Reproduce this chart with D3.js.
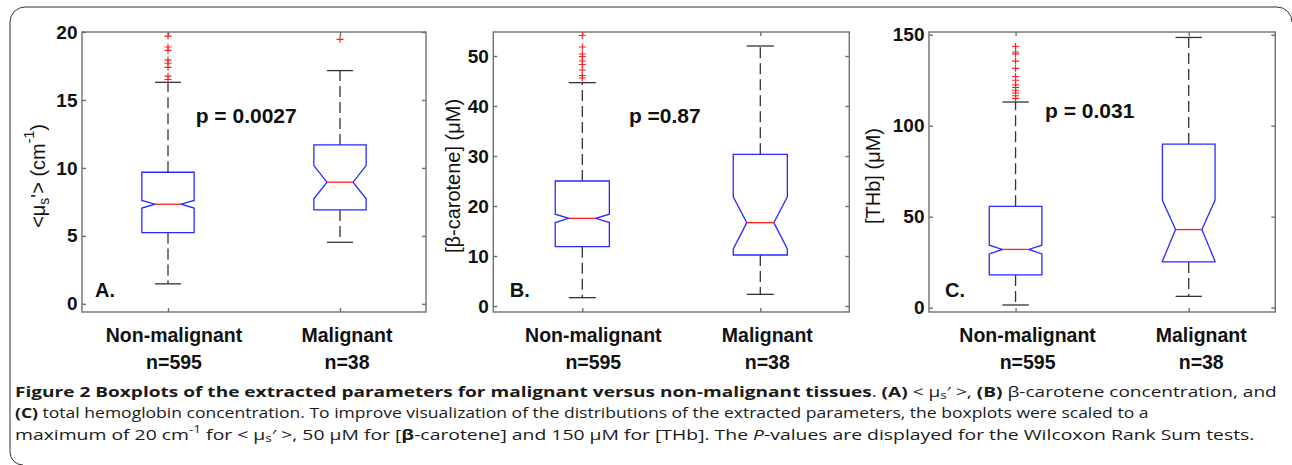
<!DOCTYPE html>
<html><head><meta charset="utf-8">
<script src="https://cdn.jsdelivr.net/npm/d3@7"></script>
<style>body{margin:0;background:#fff} svg{display:block}</style>
</head><body>
<svg id="chart" width="1292" height="465"></svg>
<script>
// ---------------- DATA ----------------
const categories = ["Non-malignant", "Malignant"];
const sampleSizes = [595, 38];

// Panel A: <mu_s'> (cm^-1)
const aWhiskerLow = [1.47, 4.53];
const aQ1 = [5.24, 6.91];
const aNotchLow = [7.05, 7.73];
const aMedian = [7.33, 8.95];
const aNotchHigh = [7.61, 10.17];
const aQ3 = [9.68, 11.69];
const aWhiskerHigh = [16.3, 17.16];
const aOutliersNonMalignant = [19.7, 18.9, 18.65, 17.95, 17.7, 17.4, 16.75, 16.5];
const aOutliersMalignant = [19.46];
const aTicks = [0, 5, 10, 15, 20];
const aDomain = [-0.6, 20];

// Panel B: [beta-carotene] (uM)
const bWhiskerLow = [1.67, 2.33];
const bQ1 = [11.87, 10.2];
const bNotchLow = [16.68, 11.4];
const bMedian = [17.53, 16.67];
const bNotchHigh = [18.37, 21.85];
const bQ3 = [25.0, 30.33];
const bWhiskerHigh = [44.67, 52.0];
const bOutliersNonMalignant = [54.1, 51.8, 50.4, 49.9, 49.0, 48.3, 47.2, 46.1, 45.6];
const bOutliersMalignant = [];
const bTicks = [0, 10, 20, 30, 40, 50];
const bDomain = [-1.2, 54.8];

// Panel C: [THb] (uM)
const cWhiskerLow = [1.46, 6.2];
const cQ1 = [17.96, 25.1];
const cNotchLow = [29.5, 25.5];
const cMedian = [32.0, 42.9];
const cNotchHigh = [34.3, 59.0];
const cQ3 = [55.7, 89.9];
const cWhiskerHigh = [113.0, 148.5];
const cOutliersNonMalignant = [143.5, 140.5, 139.5, 135.5, 131.5, 127, 125, 122.5, 121, 119.5, 118, 116.5, 115];
const cOutliersMalignant = [];
const cTicks = [0, 50, 100, 150];
const cDomain = [-2.4, 151.5];

const pValueLabels = ["p = 0.0027", "p =0.87", "p = 0.031"];
const panelLetters = ["A.", "B.", "C."];

// ---------------- LAYOUT / STYLE ----------------
const svg = d3.select("#chart");
const FONT = "'Liberation Sans', Arial, sans-serif";
const TOP = 32, BOTTOM = 312;

const panels = [
  { left: 82, right: 426, domain: aDomain, ticks: aTicks,
    stats: { wl: aWhiskerLow, q1: aQ1, nl: aNotchLow, md: aMedian, nh: aNotchHigh, q3: aQ3, wh: aWhiskerHigh },
    outliers: [aOutliersNonMalignant, aOutliersMalignant],
    pPos: [1.161, 13.3], labelX: 38, labelOffsets: [6, 7], letterDx: 13,
    ylabel: [["<μ"], ["s", "sub"], ["'> (cm"], ["-1", "sup"], [")"]] },
  { left: 493.3, right: 849.3, domain: bDomain, ticks: bTicks,
    stats: { wl: bWhiskerLow, q1: bQ1, nl: bNotchLow, md: bMedian, nh: bNotchHigh, q3: bQ3, wh: bWhiskerHigh },
    outliers: [bOutliersNonMalignant, bOutliersMalignant],
    pPos: [1.262, 36.7], labelX: 453, labelOffsets: [11, 7], letterDx: 16.5,
    ylabel: [["[β-carotene] (μM)"]] },
  { left: 929, right: 1275.3, domain: cDomain, ticks: cTicks,
    stats: { wl: cWhiskerLow, q1: cQ1, nl: cNotchLow, md: cMedian, nh: cNotchHigh, q3: cQ3, wh: cWhiskerHigh },
    outliers: [cOutliersNonMalignant, cOutliersMalignant],
    pPos: [1.17, 104.2], labelX: 873, labelOffsets: [12, 12.5], letterDx: 16,
    ylabel: [["[THb] (μM)"]] }
];

// outer frame
svg.append("path")
  .attr("d", "M10,452 L10,22 A15,15 0 0 1 25,7 L1277,7 A15,15 0 0 1 1292,22 M10,452 A13,13 0 0 0 23,465")
  .attr("fill", "none").attr("stroke", "#333").attr("stroke-width", 1);

function addRich(textSel, parts, subShift) {
  let shift = 0;
  parts.forEach(p => {
    const [t, mode, weight, style] = p;
    const ts = textSel.append("tspan").text(t);
    let target = 0;
    if (mode === "sub") target = subShift;
    if (mode === "sup") target = -0.45;
    const small = (mode === "sub" || mode === "sup");
    if (small) ts.attr("font-size", "70%");
    const dyEm = target - shift;
    if (dyEm !== 0) {
      const f = small ? 1 / 0.7 : 1;
      ts.attr("dy", (dyEm * f).toFixed(3) + "em");
    }
    shift = target;
    if (weight) ts.attr("font-weight", weight);
    if (style) ts.attr("font-style", style);
  });
}

panels.forEach((P, pi) => {
  const g = svg.append("g");
  const x = d3.scaleLinear().domain([0.5, 2.5]).range([P.left, P.right]);
  const y = d3.scaleLinear().domain(P.domain).range([BOTTOM, TOP]);
  const unit = x(1) - x(0);
  const hw = unit * 0.152;

  g.append("rect").attr("x", P.left).attr("y", TOP)
    .attr("width", P.right - P.left).attr("height", BOTTOM - TOP)
    .attr("fill", "none").attr("stroke", "#707070").attr("stroke-width", 1.4);

  const yl = g.append("g").attr("transform", `translate(${P.left},0)`)
    .call(d3.axisLeft(y).tickValues(P.ticks).tickSizeInner(-4).tickSizeOuter(0).tickPadding(4.5));
  const yr = g.append("g").attr("transform", `translate(${P.right},0)`)
    .call(d3.axisRight(y).tickValues(P.ticks).tickSizeInner(-4).tickSizeOuter(0).tickFormat(""));
  const xb = g.append("g").attr("transform", `translate(0,${BOTTOM})`)
    .call(d3.axisBottom(x).tickValues([1, 2]).tickSizeInner(-4).tickSizeOuter(0).tickFormat(""));
  const xt = g.append("g").attr("transform", `translate(0,${TOP})`)
    .call(d3.axisTop(x).tickValues([1, 2]).tickSizeInner(-4).tickSizeOuter(0).tickFormat(""));
  [yl, yr, xb, xt].forEach(a => {
    a.select(".domain").remove();
    a.selectAll(".tick line").attr("stroke", "#707070").attr("stroke-width", 1.4);
  });
  yl.selectAll(".tick text").attr("font-family", FONT).attr("font-size", 19)
    .attr("font-weight", "bold").attr("fill", "#111");

  const S = P.stats;
  categories.forEach((cat, i) => {
    const cx = x(i + 1);
    const yq1 = y(S.q1[i]), yq3 = y(S.q3[i]), ym = y(S.md[i]);
    const ynl = y(S.nl[i]), ynh = y(S.nh[i]);
    g.append("line").attr("x1", cx).attr("x2", cx).attr("y1", yq3).attr("y2", y(S.wh[i]))
      .attr("stroke", "#333").attr("stroke-width", 1.3).attr("stroke-dasharray", "11,5");
    g.append("line").attr("x1", cx).attr("x2", cx).attr("y1", yq1).attr("y2", y(S.wl[i]))
      .attr("stroke", "#333").attr("stroke-width", 1.3).attr("stroke-dasharray", "11,5");
    [S.wh[i], S.wl[i]].forEach(v => {
      g.append("line").attr("x1", cx - hw / 2).attr("x2", cx + hw / 2)
        .attr("y1", y(v)).attr("y2", y(v)).attr("stroke", "#333").attr("stroke-width", 1.3);
    });
    const path = d3.path();
    path.moveTo(cx - hw, yq1);
    path.lineTo(cx - hw, ynl);
    path.lineTo(cx - hw / 2, ym);
    path.lineTo(cx - hw, ynh);
    path.lineTo(cx - hw, yq3);
    path.lineTo(cx + hw, yq3);
    path.lineTo(cx + hw, ynh);
    path.lineTo(cx + hw / 2, ym);
    path.lineTo(cx + hw, ynl);
    path.lineTo(cx + hw, yq1);
    path.closePath();
    g.append("path").attr("d", path.toString()).attr("fill", "none")
      .attr("stroke", "#2a2aff").attr("stroke-width", 1.3);
    g.append("line").attr("x1", cx - hw / 2).attr("x2", cx + hw / 2)
      .attr("y1", ym).attr("y2", ym).attr("stroke", "#ff2020").attr("stroke-width", 1.3);
    P.outliers[i].forEach(v => {
      const oy = y(v);
      g.append("path").attr("d", `M${cx - 3.5},${oy}H${cx + 3.5}M${cx},${oy - 3.5}V${oy + 3.5}`)
        .attr("stroke", "#ff2020").attr("stroke-width", 1.1).attr("fill", "none");
    });
    const lx = cx + P.labelOffsets[i];
    g.append("text").attr("x", lx).attr("y", 341.7).attr("text-anchor", "middle")
      .attr("font-family", FONT).attr("font-size", 19.5).attr("font-weight", "bold")
      .attr("fill", "#111").text(cat);
    g.append("text").attr("x", lx).attr("y", 368.5).attr("text-anchor", "middle")
      .attr("font-family", FONT).attr("font-size", 19.5).attr("font-weight", "bold")
      .attr("fill", "#111").text("n=" + sampleSizes[i]);
  });

  g.append("text").attr("x", x(P.pPos[0])).attr("y", y(P.pPos[1]))
    .attr("font-family", FONT).attr("font-size", 21).attr("font-weight", "bold")
    .attr("fill", "#111").text(pValueLabels[pi]);
  g.append("text").attr("x", P.left + P.letterDx).attr("y", BOTTOM - 15.3)
    .attr("font-family", FONT).attr("font-size", 20).attr("font-weight", "bold")
    .attr("fill", "#111").text(panelLetters[pi]);
  const t = g.append("text")
    .attr("transform", `translate(${P.labelX},${(TOP + BOTTOM) / 2 + 4}) rotate(-90)`)
    .attr("text-anchor", "middle").attr("dominant-baseline", "central")
    .attr("font-family", FONT).attr("font-size", 20).attr("fill", "#111");
  addRich(t, P.ylabel.map(p => [p[0], p[1]]), 0.3);
});

// ---------------- CAPTION ----------------
const CAP_FONT = "'Open Sans', 'Noto Sans', sans-serif";
const captionLines = [
  [["Figure 2 Boxplots of the extracted parameters for malignant versus non-malignant tissues", null, "bold"],
   [". ", null], ["(A)", null, "bold"], [" < μ", null], ["s", "sub"], ["′ >, ", null],
   ["(B)", null, "bold"], [" β-carotene concentration, and", null]],
  [["(C)", null, "bold"], [" total hemoglobin concentration. To improve visualization of the distributions of the extracted parameters, the boxplots were scaled to a", null]],
  [["maximum of 20 cm", null], ["-1", "sup"], [" for < μ", null], ["s", "sub"], ["′ >, 50 μM for [", null],
   ["β", null, "bold"], ["-carotene] and 150 μM for [THb]. The ", null], ["P", null, null, "italic"],
   ["-values are displayed for the Wilcoxon Rank Sum tests.", null]]
];
const capBaselines = [396.5, 418, 439.5];
const capWidths = [1263, 1135, 1240];
captionLines.forEach((parts, li) => {
  const g = svg.append("g");
  const t = g.append("text").attr("x", 0).attr("y", 0)
    .attr("font-family", CAP_FONT).attr("font-size", 15).attr("fill", "#1a1a1a");
  addRich(t, parts, 0.15);
  const w = t.node().getComputedTextLength();
  const sx = capWidths[li] / w;
  g.attr("transform", `translate(15,${capBaselines[li]}) scale(${sx.toFixed(4)},1)`);
});
</script>
</body></html>
